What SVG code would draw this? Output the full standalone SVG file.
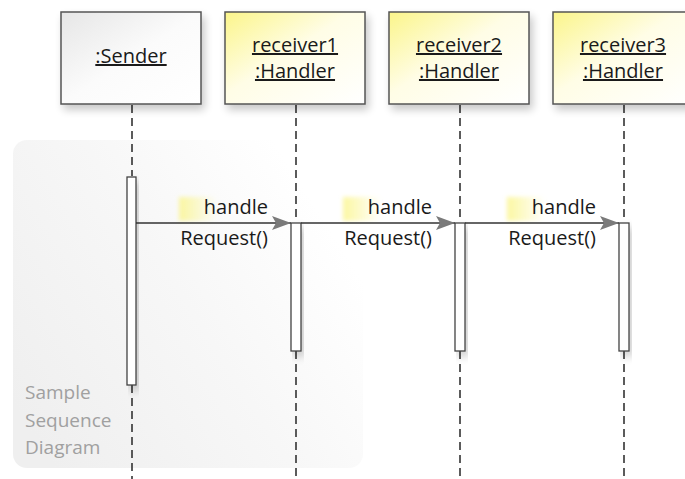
<svg xmlns="http://www.w3.org/2000/svg" width="685" height="479" viewBox="0 0 685 479">
<defs>
<linearGradient id="panelG" x1="0" y1="0.8" x2="1" y2="0.2">
<stop offset="0" stop-color="#efefef"/>
<stop offset="0.5" stop-color="#f7f7f7"/>
<stop offset="0.9" stop-color="#ffffff"/>
</linearGradient>
<linearGradient id="senderG" x1="0" y1="0" x2="1" y2="1">
<stop offset="0" stop-color="#e6e6e6"/>
<stop offset="0.5" stop-color="#fbfbfb"/>
<stop offset="1" stop-color="#ffffff"/>
</linearGradient>
<linearGradient id="recvG" x1="0" y1="0" x2="1" y2="1">
<stop offset="0" stop-color="#fbf58a"/>
<stop offset="0.45" stop-color="#fffde6"/>
<stop offset="1" stop-color="#ffffff"/>
</linearGradient>
<linearGradient id="hlG" x1="0" y1="0" x2="1" y2="0">
<stop offset="0" stop-color="#fbf58a" stop-opacity="0.8"/>
<stop offset="1" stop-color="#fbf58a" stop-opacity="0"/>
</linearGradient>
<filter id="blur" x="-30%" y="-30%" width="160%" height="160%">
<feGaussianBlur stdDeviation="2"/>
</filter>
<filter id="sh" x="-20%" y="-20%" width="150%" height="150%">
<feGaussianBlur in="SourceAlpha" stdDeviation="4"/>
<feOffset dx="3" dy="5" result="b"/>
<feComponentTransfer><feFuncA type="linear" slope="0.22"/></feComponentTransfer>
<feMerge><feMergeNode/><feMergeNode in="SourceGraphic"/></feMerge>
</filter>
<marker id="arr" markerWidth="20" markerHeight="16" refX="19" refY="7" orient="auto" markerUnits="userSpaceOnUse">
<path d="M0,0 L19,7 L0,14 L4,7 Z" fill="#7a7a7a"/>
</marker>
</defs>
<style>
.box{stroke:#555;stroke-width:1.5}
.life{stroke:#333;stroke-width:1.6;stroke-dasharray:8 5;fill:none}
.bar{fill:#fff;stroke:#444;stroke-width:1.3}
.t{font-family:"Open Sans","DejaVu Sans",sans-serif;font-size:20px;fill:#1a1a1a}
.hd{font-family:"Open Sans","DejaVu Sans",sans-serif;font-size:20px;fill:#1a1a1a;text-anchor:middle;text-decoration:underline}
.msg{stroke:#333;stroke-width:1.5;fill:none}
.note{font-family:"Open Sans","DejaVu Sans",sans-serif;font-size:19px;fill:#a0a0a0}
</style>
<rect width="685" height="479" fill="#fff"/>
<rect x="13" y="140" width="350" height="328" rx="14" fill="url(#panelG)"/>
<g id="note">
<text class="note" x="25" y="399">Sample</text>
<text class="note" x="25" y="427">Sequence</text>
<text class="note" x="25" y="454">Diagram</text>
</g>
<g id="lifelines">
<line class="life" x1="132" y1="105" x2="132" y2="176"/>
<line class="life" x1="132" y1="385" x2="132" y2="479"/>
<line class="life" x1="296" y1="105" x2="296" y2="222"/>
<line class="life" x1="296" y1="351" x2="296" y2="479"/>
<line class="life" x1="460" y1="105" x2="460" y2="222"/>
<line class="life" x1="460" y1="351" x2="460" y2="479"/>
<line class="life" x1="624" y1="105" x2="624" y2="222"/>
<line class="life" x1="624" y1="351" x2="624" y2="479"/>
</g>
<g id="sender">
<rect class="box" x="61" y="12" width="140" height="92" fill="url(#senderG)" filter="url(#sh)"/>
<text class="hd" x="131" y="63">:Sender</text>
<rect class="bar" x="127" y="177" width="9" height="208" filter="url(#sh)"/>
</g>
<g id="receiver1">
<rect class="box" x="225" y="12" width="140" height="92" fill="url(#recvG)" filter="url(#sh)"/>
<text class="hd" x="295" y="52">receiver1</text>
<text class="hd" x="295" y="78">:Handler</text>
<rect class="bar" x="291" y="223" width="10" height="128" filter="url(#sh)"/>
</g>
<g id="receiver2">
<rect class="box" x="389" y="12" width="140" height="92" fill="url(#recvG)" filter="url(#sh)"/>
<text class="hd" x="459" y="52">receiver2</text>
<text class="hd" x="459" y="78">:Handler</text>
<rect class="bar" x="455" y="223" width="10" height="128" filter="url(#sh)"/>
</g>
<g id="receiver3">
<rect class="box" x="553" y="12" width="140" height="92" fill="url(#recvG)" filter="url(#sh)"/>
<text class="hd" x="623" y="52">receiver3</text>
<text class="hd" x="623" y="78">:Handler</text>
<rect class="bar" x="619" y="223" width="10" height="128" filter="url(#sh)"/>
</g>
<g id="connectors">
<rect x="179" y="197" width="38" height="24" fill="url(#hlG)" filter="url(#blur)"/>
<rect x="343" y="197" width="38" height="24" fill="url(#hlG)" filter="url(#blur)"/>
<rect x="507" y="197" width="38" height="24" fill="url(#hlG)" filter="url(#blur)"/>
<line class="msg" x1="136" y1="223" x2="291" y2="223" marker-end="url(#arr)"/>
<line class="msg" x1="301" y1="223" x2="455" y2="223" marker-end="url(#arr)"/>
<line class="msg" x1="465" y1="223" x2="619" y2="223" marker-end="url(#arr)"/>
<text class="t" x="268" y="214" text-anchor="end">handle</text>
<text class="t" x="268" y="245" text-anchor="end">Request()</text>
<text class="t" x="432" y="214" text-anchor="end">handle</text>
<text class="t" x="432" y="245" text-anchor="end">Request()</text>
<text class="t" x="596" y="214" text-anchor="end">handle</text>
<text class="t" x="596" y="245" text-anchor="end">Request()</text>
</g>
</svg>
